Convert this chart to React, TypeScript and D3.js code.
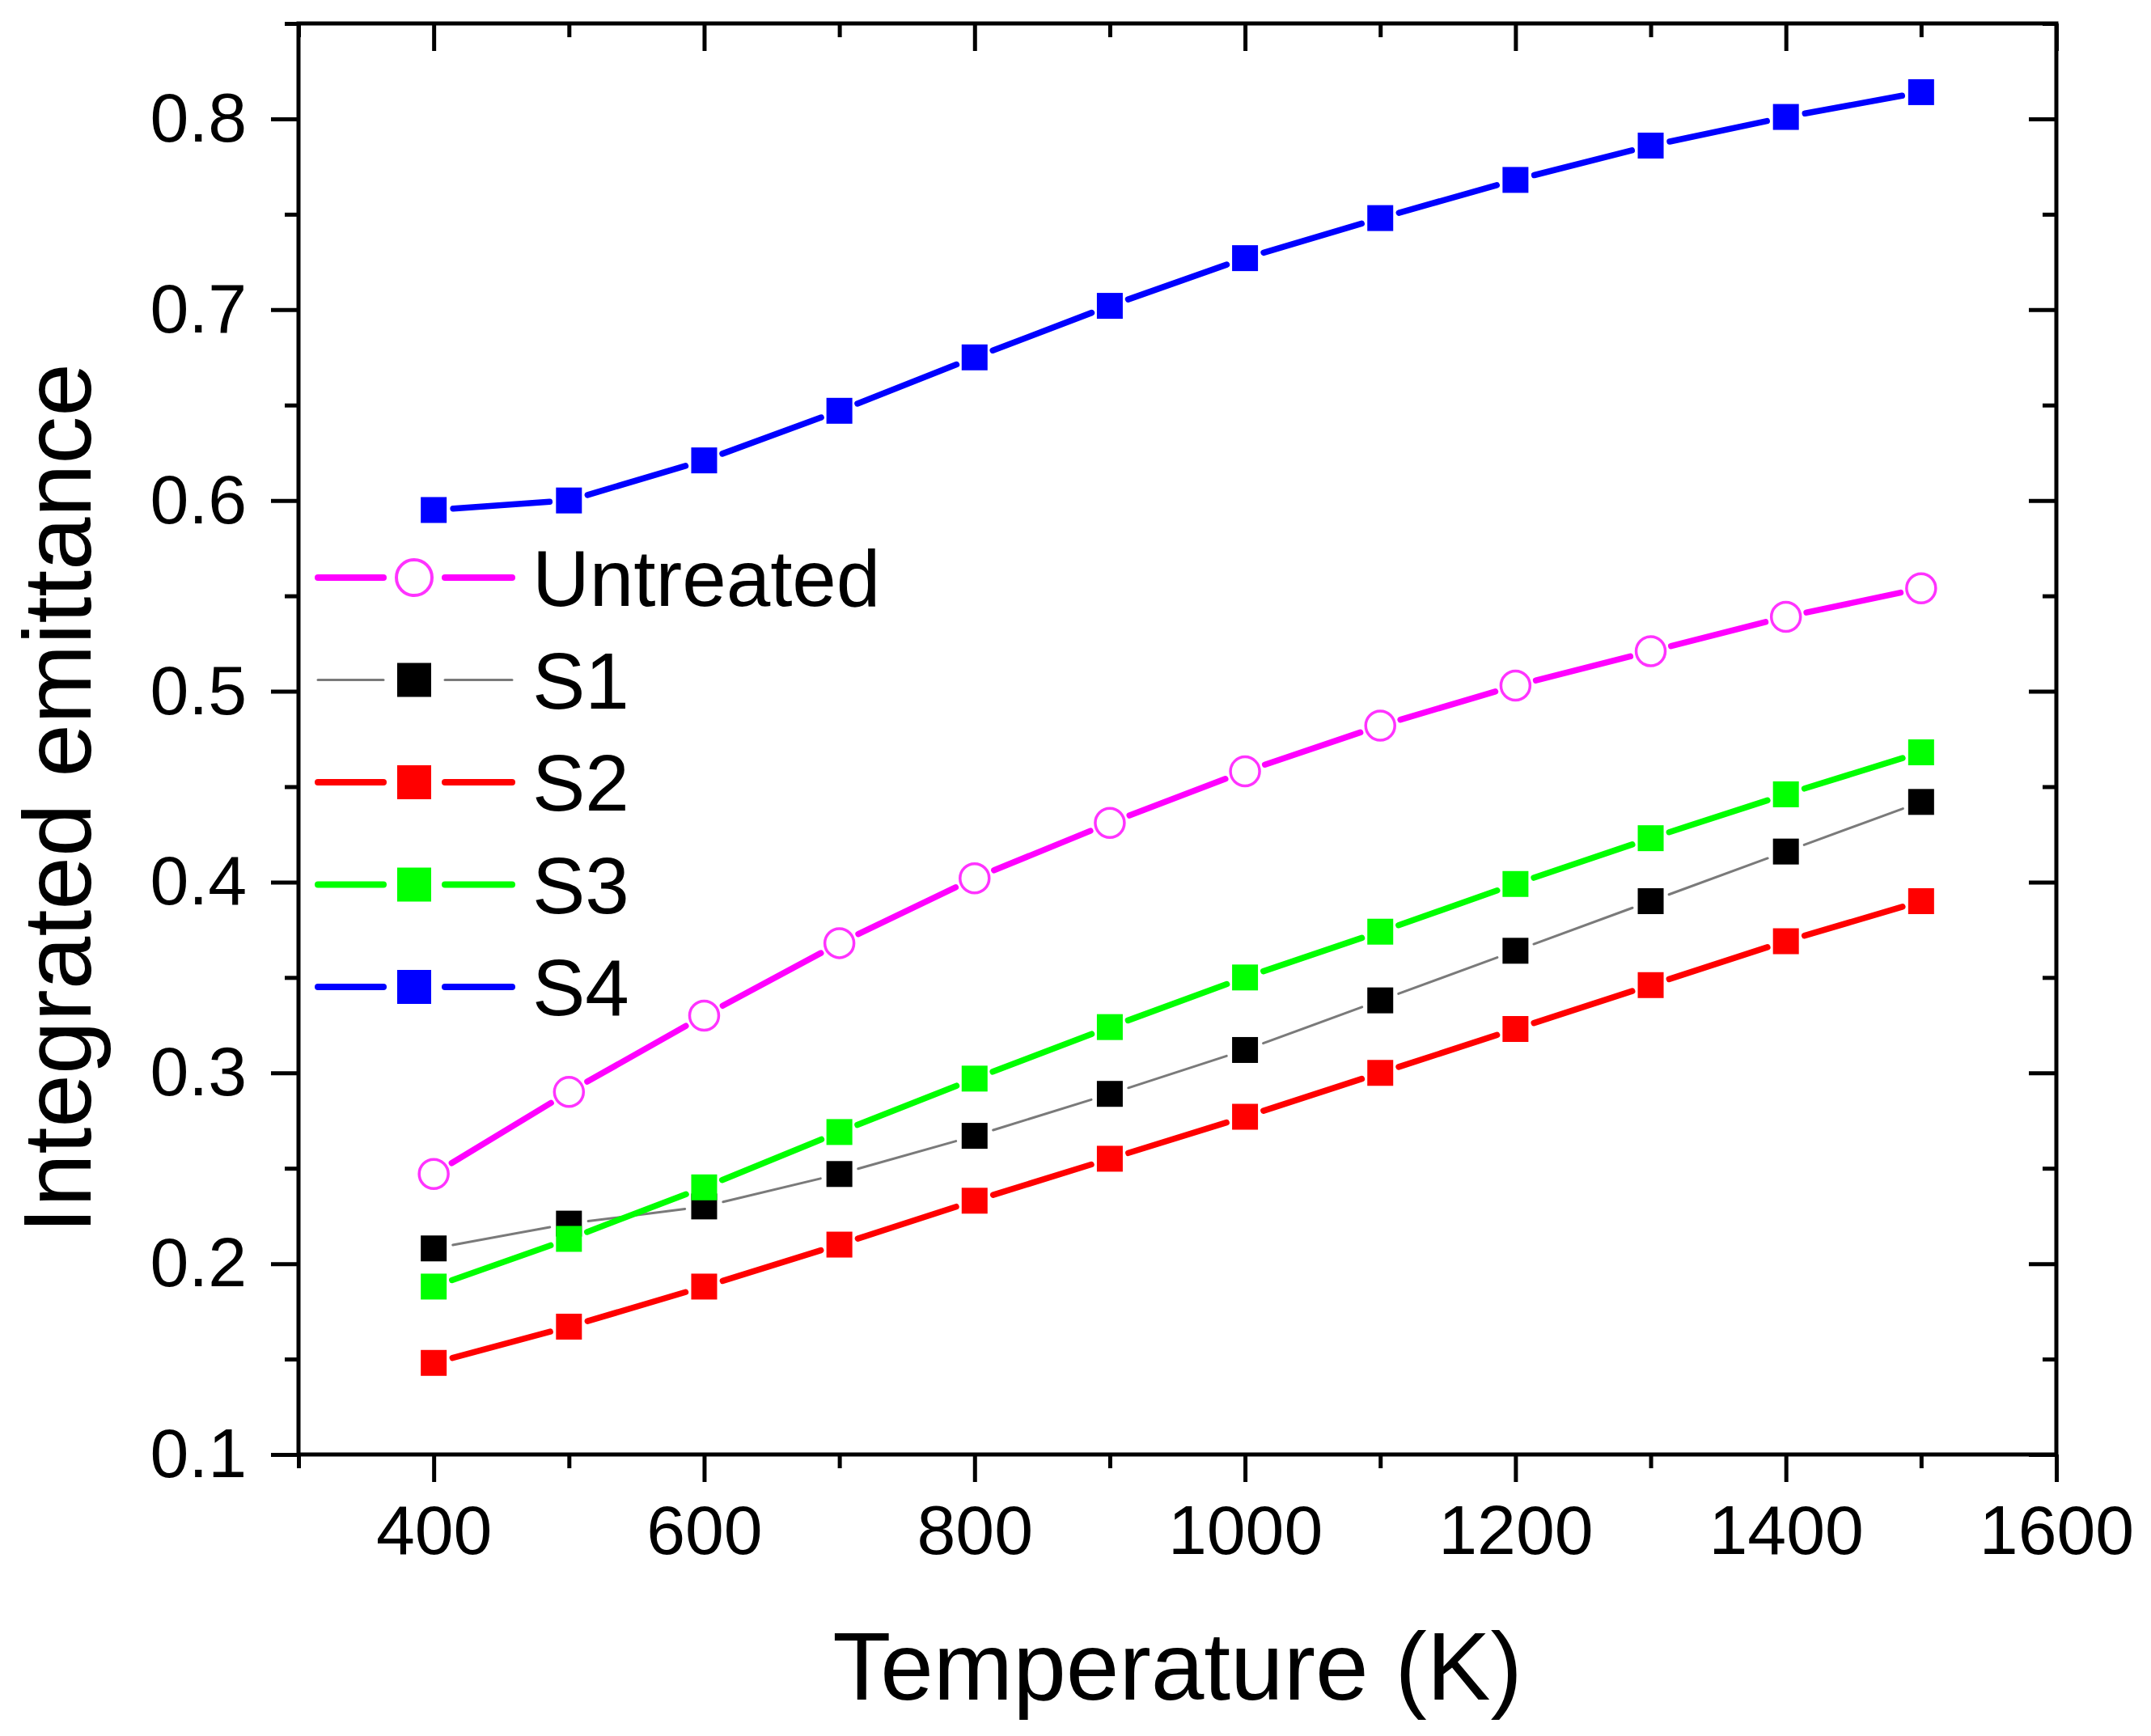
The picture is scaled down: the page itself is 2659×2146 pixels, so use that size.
import React, { useRef, useEffect } from "react";
import * as d3 from "d3";

const temperatures = [400, 500, 600, 700, 800, 900, 1000, 1100, 1200, 1300, 1400, 1500];
const untreated = [0.247, 0.29, 0.33, 0.368, 0.402, 0.431, 0.458, 0.482, 0.503, 0.521, 0.539, 0.554];
const s1 = [0.208, 0.221, 0.23, 0.247, 0.267, 0.289, 0.312, 0.338, 0.364, 0.39, 0.416, 0.442];
const s2 = [0.148, 0.167, 0.188, 0.21, 0.233, 0.255, 0.277, 0.3, 0.323, 0.346, 0.369, 0.39];
const s3 = [0.188, 0.213, 0.24, 0.269, 0.297, 0.324, 0.35, 0.374, 0.399, 0.423, 0.446, 0.468];
const s4 = [0.595, 0.6, 0.621, 0.647, 0.675, 0.702, 0.727, 0.748, 0.768, 0.786, 0.801, 0.814];

const xMajorTicks = [400, 600, 800, 1000, 1200, 1400, 1600];
const xMinorTicks = [300, 500, 700, 900, 1100, 1300, 1500];
const yMajorTicks = [0.1, 0.2, 0.3, 0.4, 0.5, 0.6, 0.7, 0.8];
const yMinorTicks = [0.15, 0.25, 0.35, 0.45, 0.55, 0.65, 0.75, 0.85];

type Series = {
  name: string;
  values: number[];
  line: string;
  lineWidth: number;
  marker: string;
  shape: "square" | "circle";
};

// drawing order matters: green sits on top of black where they meet
const series: Series[] = [
  { name: "S1", values: s1, line: "#7a7a7a", lineWidth: 3, marker: "#000000", shape: "square" },
  { name: "S2", values: s2, line: "#ff0000", lineWidth: 7.5, marker: "#ff0000", shape: "square" },
  { name: "S3", values: s3, line: "#00ff00", lineWidth: 7.5, marker: "#00ff00", shape: "square" },
  { name: "S4", values: s4, line: "#0000ff", lineWidth: 7.5, marker: "#0000ff", shape: "square" },
  { name: "Untreated", values: untreated, line: "#ff00ff", lineWidth: 7.5, marker: "#ff33ff", shape: "circle" },
];
const legendOrder = ["Untreated", "S1", "S2", "S3", "S4"];

const W = 2659;
const H = 2146;
const M = { left: 369, right: 2542, top: 29, bottom: 1798 };
const FONT = "'Liberation Sans', Arial, Helvetica, sans-serif";

const Chart: React.FC = () => {
  const svgRef = useRef<SVGSVGElement | null>(null);

  useEffect(() => {
    if (!svgRef.current) return;
    const svg = d3.select(svgRef.current);
    svg.selectAll("*").remove();

    const x = d3.scaleLinear().domain([300, 1600]).range([M.left, M.right]);
    const y = d3.scaleLinear().domain([0.1, 0.85]).range([M.bottom, M.top]);

    const axisStyle = (g: d3.Selection<SVGGElement, unknown, null, undefined>) => {
      g.select(".domain").remove();
      g.selectAll(".tick line").attr("stroke", "#000").attr("stroke-width", 5);
      g.selectAll(".tick text")
        .attr("fill", "#000")
        .style("font-family", FONT)
        .style("font-size", "86px");
    };

    // bottom axis
    svg.append("g")
      .attr("transform", `translate(0,${M.bottom})`)
      .call(d3.axisBottom(x).tickValues(xMajorTicks).tickSize(34).tickSizeOuter(0).tickPadding(28).tickFormat(d3.format("d")))
      .call(axisStyle);
    svg.append("g")
      .attr("transform", `translate(0,${M.bottom})`)
      .call(d3.axisBottom(x).tickValues(xMinorTicks).tickSize(17).tickSizeOuter(0).tickFormat(() => ""))
      .call(axisStyle);
    // top axis, ticks inward
    svg.append("g")
      .attr("transform", `translate(0,${M.top})`)
      .call(d3.axisBottom(x).tickValues(xMajorTicks).tickSize(34).tickSizeOuter(0).tickFormat(() => ""))
      .call(axisStyle);
    svg.append("g")
      .attr("transform", `translate(0,${M.top})`)
      .call(d3.axisBottom(x).tickValues(xMinorTicks).tickSize(17).tickSizeOuter(0).tickFormat(() => ""))
      .call(axisStyle);

    // left axis
    svg.append("g")
      .attr("transform", `translate(${M.left},0)`)
      .call(d3.axisLeft(y).tickValues(yMajorTicks).tickSize(34).tickSizeOuter(0).tickPadding(30).tickFormat(d3.format(".1f")))
      .call(axisStyle);
    svg.append("g")
      .attr("transform", `translate(${M.left},0)`)
      .call(d3.axisLeft(y).tickValues(yMinorTicks).tickSize(17).tickSizeOuter(0).tickFormat(() => ""))
      .call(axisStyle);
    // right axis, ticks inward
    svg.append("g")
      .attr("transform", `translate(${M.right},0)`)
      .call(d3.axisLeft(y).tickValues(yMajorTicks).tickSize(34).tickSizeOuter(0).tickFormat(() => ""))
      .call(axisStyle);
    svg.append("g")
      .attr("transform", `translate(${M.right},0)`)
      .call(d3.axisLeft(y).tickValues(yMinorTicks).tickSize(17).tickSizeOuter(0).tickFormat(() => ""))
      .call(axisStyle);

    // frame
    svg.append("rect")
      .attr("x", M.left)
      .attr("y", M.top)
      .attr("width", M.right - M.left)
      .attr("height", M.bottom - M.top)
      .attr("fill", "none")
      .attr("stroke", "#000")
      .attr("stroke-width", 5);

    // axis titles
    svg.append("text")
      .attr("x", (M.left + M.right) / 2)
      .attr("y", 2101)
      .attr("text-anchor", "middle")
      .style("font-family", FONT)
      .style("font-size", "118px")
      .text("Temperature (K)");
    svg.append("text")
      .attr("transform", "translate(112,987) rotate(-90)")
      .attr("text-anchor", "middle")
      .style("font-family", FONT)
      .style("font-size", "118px")
      .text("Integrated emittance");

    const sq = 32;
    const gap = 8;

    const drawMarker = (
      g: d3.Selection<SVGGElement, unknown, null, undefined>,
      s: Series,
      cx: number,
      cy: number,
      size: number,
      sw: number
    ) => {
      if (s.shape === "square") {
        g.append("rect")
          .attr("x", cx - size / 2)
          .attr("y", cy - size / 2)
          .attr("width", size)
          .attr("height", size)
          .attr("fill", s.marker);
      } else {
        g.append("circle")
          .attr("cx", cx)
          .attr("cy", cy)
          .attr("r", size / 2)
          .attr("fill", "#fff")
          .attr("stroke", s.marker)
          .attr("stroke-width", sw);
      }
    };

    series.forEach((s) => {
      const g = svg.append("g");
      const pts = temperatures.map((t, i) => [x(t), y(s.values[i])] as [number, number]);
      const cut = (s.shape === "square" ? sq / 2 : 18) + gap;
      d3.pairs(pts).forEach(([a, b]) => {
        const dx = b[0] - a[0];
        const dy = b[1] - a[1];
        const len = Math.hypot(dx, dy);
        if (len <= 2 * cut) return;
        const ux = dx / len;
        const uy = dy / len;
        g.append("line")
          .attr("x1", a[0] + ux * cut)
          .attr("y1", a[1] + uy * cut)
          .attr("x2", b[0] - ux * cut)
          .attr("y2", b[1] - uy * cut)
          .attr("stroke", s.line)
          .attr("stroke-width", s.lineWidth)
          .attr("stroke-linecap", "round");
      });
      pts.forEach(([cx, cy]) => drawMarker(g, s, cx, cy, s.shape === "square" ? sq : 36, 3.5));
    });

    // legend
    const legend = svg.append("g");
    legendOrder.forEach((name, i) => {
      const s = series.find((d) => d.name === name)!;
      const ry = 714 + i * 126.5;
      const row = legend.append("g");
      [[393, 474], [550, 633]].forEach(([x1, x2]) => {
        row.append("line")
          .attr("x1", x1)
          .attr("x2", x2)
          .attr("y1", ry)
          .attr("y2", ry)
          .attr("stroke", s.line)
          .attr("stroke-width", s.shape === "circle" || s.name !== "S1" ? 8 : 3)
          .attr("stroke-linecap", "round");
      });
      drawMarker(row, s, 512, ry, s.shape === "square" ? 42 : 44, 4);
      row.append("text")
        .attr("x", 658)
        .attr("y", ry + 35)
        .style("font-family", FONT)
        .style("font-size", "98px")
        .text(s.name);
    });
  }, []);

  return (
    <svg
      ref={svgRef}
      width={W}
      height={H}
      style={{ position: "absolute", left: 0, top: 0, background: "#fff" }}
    ></svg>
  );
};

export default function App() {
  return <Chart />;
}
